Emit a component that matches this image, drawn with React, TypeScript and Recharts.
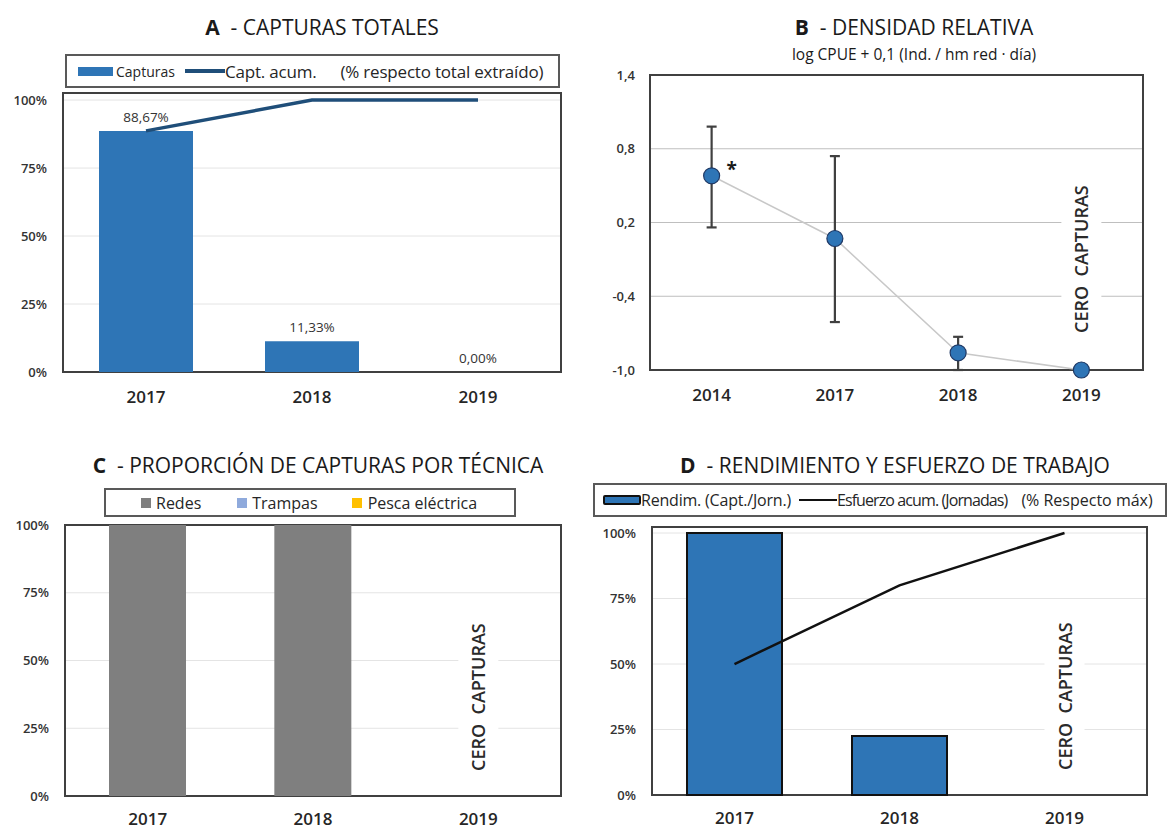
import React from "react";
import {
  ComposedChart,
  Bar,
  Line,
  XAxis,
  YAxis,
  CartesianGrid,
  ReferenceArea,
  ReferenceLine,
  ErrorBar,
  LabelList,
} from "recharts";

// A - capturas totales (% respecto total extraído)
const yearsA = ["2017", "2018", "2019"];
const capturasPct = [88.67, 11.33, 0];
const capturasAcumPct = [88.67, 100, 100];

// B - densidad relativa, log CPUE + 0,1
const yearsB = ["2014", "2017", "2018", "2019"];
const cpueLog = [0.58, 0.07, -0.86, -1.0];
const cpueLow = [0.16, -0.61, -1.0, -1.0];
const cpueHigh = [0.98, 0.74, -0.73, -1.0];
const cpueNote = ["*", "", "", ""];
const cpueTicks = [-1.0, -0.4, 0.2, 0.8, 1.4];

// C - proporción de capturas por técnica
const yearsC = ["2017", "2018", "2019"];
const redesPct = [100, 100, 0];
const trampasPct = [0, 0, 0];
const electricaPct = [0, 0, 0];

// D - rendimiento y esfuerzo (% respecto máx)
const yearsD = ["2017", "2018", "2019"];
const rendimPct = [100, 22.5, 0];
const esfuerzoAcumPct = [50, 80, 100];

const pctTicks = [0, 25, 50, 75, 100];

const dataA = yearsA.map((year, i) => ({
  year,
  capturas: capturasPct[i],
  acum: capturasAcumPct[i],
}));
const dataB = yearsB.map((year, i) => ({
  year,
  value: cpueLog[i],
  err: [cpueLog[i] - cpueLow[i], cpueHigh[i] - cpueLog[i]],
  note: cpueNote[i],
}));
const dataC = yearsC.map((year, i) => ({
  year,
  redes: redesPct[i],
  trampas: trampasPct[i],
  electrica: electricaPct[i],
}));
const dataD = yearsD.map((year, i) => ({
  year,
  rendim: rendimPct[i],
  esfuerzo: esfuerzoAcumPct[i],
}));

const FONT = "'Open Sans', sans-serif";
const BLUE = "#2e75b6";
const FRAME = "#404040";

const yTick = { fontSize: 13, fontWeight: 600, fill: "#333", fontFamily: FONT };
const xTick = { fontSize: 17, fontWeight: 600, fill: "#262626", fontFamily: FONT };

const pct = (v: number) => `${v}%`;
const comma = (v: number) => v.toFixed(1).replace(".", ",");

function CeroCapturas({ viewBox, lift }: any) {
  const { x, y, height } = viewBox;
  const bottom = y + height - lift;
  const len = 148;
  return (
    <g>
      <rect x={x - 20} y={bottom - len - 4} width={40} height={len + 8} fill="#fff" />
      <text
        transform={`translate(${x + 7}, ${bottom}) rotate(-90)`}
        fontSize={18}
        fontWeight={600}
        fill="#2a2a2a"
        fontFamily={FONT}
        style={{ whiteSpace: "pre" }}
      >
        CERO  CAPTURAS
      </text>
    </g>
  );
}

function Title({ letter, text, cx, top }: { letter: string; text: string; cx: number; top: number }) {
  return (
    <div
      style={{
        position: "absolute",
        left: cx - 300,
        top,
        width: 600,
        textAlign: "center",
        fontSize: 21,
        fontWeight: 500,
        lineHeight: "24px",
        color: "#1a1a1a",
        whiteSpace: "pre",
      }}
    >
      <b>{letter}</b>
      {"  - " + text}
    </div>
  );
}

const legendBox: React.CSSProperties = {
  position: "absolute",
  boxSizing: "border-box",
  border: "2px solid #595959",
  display: "flex",
  alignItems: "center",
  color: "#262626",
  background: "#fff",
  whiteSpace: "nowrap",
};

export default function App() {
  return (
    <div
      style={{
        position: "absolute",
        left: 0,
        top: 0,
        width: 1167,
        height: 830,
        background: "#fff",
        fontFamily: FONT,
        overflow: "hidden",
      }}
    >
      {/* A - Capturas totales */}
      <Title letter="A" text="CAPTURAS TOTALES" cx={322} top={15} />
      <div style={{ ...legendBox, left: 65, top: 54, width: 495, height: 34 }}>
        <span style={{ width: 35, height: 9, background: BLUE, marginLeft: 11 }} />
        <span style={{ fontSize: 14, marginLeft: 3 }}>Capturas</span>
        <span style={{ width: 40, height: 4, background: "#1f4e79", marginLeft: 10 }} />
        <span style={{ fontSize: 17, letterSpacing: -0.2 }}>Capt. acum.</span>
        <span style={{ fontSize: 17, marginLeft: 24, letterSpacing: -0.2 }}>
          (% respecto total extraído)
        </span>
      </div>
      <div style={{ position: "absolute", left: 0, top: 0 }}>
        <ComposedChart
          width={580}
          height={420}
          data={dataA}
          margin={{ top: 93, right: 19, bottom: 18, left: 0 }}
        >
          <CartesianGrid vertical={false} stroke="#e4e4e4" />
          <XAxis
            dataKey="year"
            height={30}
            axisLine={false}
            tickLine={false}
            tickSize={0}
            tickMargin={19}
            tick={xTick}
          />
          <YAxis
            width={63}
            domain={[0, 102.6]}
            ticks={pctTicks}
            tickFormatter={pct}
            axisLine={false}
            tickLine={false}
            tickSize={0}
            tickMargin={16}
            tick={yTick}
          />
          <Bar dataKey="capturas" fill={BLUE} barSize={94} isAnimationActive={false} />
          <Line
            dataKey="acum"
            stroke="#1f4e79"
            strokeWidth={3.5}
            dot={false}
            isAnimationActive={false}
          />
          {/* value labels sit on an unstroked series so the empty 2019 bar keeps its label */}
          <Line
            dataKey="capturas"
            stroke="none"
            dot={false}
            activeDot={false}
            isAnimationActive={false}
          >
            <LabelList
              dataKey="capturas"
              position="top"
              offset={9}
              formatter={(v: any) => `${Number(v).toFixed(2).replace(".", ",")}%`}
              style={{ fontSize: 13.5, fill: "#333", fontFamily: FONT }}
            />
          </Line>
          <ReferenceArea y1={0} y2={102.6} fill="none" stroke={FRAME} strokeWidth={2} />
        </ComposedChart>
      </div>

      {/* B - Densidad relativa */}
      <Title letter="B" text="DENSIDAD RELATIVA" cx={914} top={15} />
      <div
        style={{
          position: "absolute",
          left: 614,
          top: 44,
          width: 600,
          textAlign: "center",
          fontSize: 15.5,
          lineHeight: "20px",
          color: "#1a1a1a",
        }}
      >
        log CPUE + 0,1 (Ind. / hm red · día)
      </div>
      <div style={{ position: "absolute", left: 580, top: 0 }}>
        <ComposedChart
          width={587}
          height={420}
          data={dataB}
          margin={{ top: 75, right: 24, bottom: 20, left: 0 }}
        >
          <CartesianGrid vertical={false} stroke="#bfbfbf" />
          <XAxis
            dataKey="year"
            scale="band"
            height={30}
            axisLine={false}
            tickLine={false}
            tickSize={0}
            tickMargin={19}
            tick={xTick}
          />
          <YAxis
            width={70}
            domain={[-1, 1.4]}
            ticks={cpueTicks}
            tickFormatter={comma}
            axisLine={false}
            tickLine={false}
            tickSize={0}
            tickMargin={15}
            tick={yTick}
          />
          <ReferenceLine
            x="2019"
            stroke="none"
            label={(props: any) => <CeroCapturas {...props} lift={37} />}
          />
          <Line
            dataKey="value"
            stroke="#c8c8c8"
            strokeWidth={1.5}
            dot={{ r: 8, fill: BLUE, stroke: "#1f3864", strokeWidth: 1.2 }}
            isAnimationActive={false}
          >
            <ErrorBar dataKey="err" width={5} stroke={FRAME} strokeWidth={2.2} direction="y" />
            <LabelList
              dataKey="note"
              content={(p: any) =>
                p.value ? (
                  <text
                    x={p.x + 20}
                    y={p.y}
                    textAnchor="middle"
                    fontSize={19}
                    fontWeight={700}
                    fill="#1a1a1a"
                    fontFamily={FONT}
                  >
                    {p.value}
                  </text>
                ) : null
              }
            />
          </Line>
          <ReferenceArea y1={-1} y2={1.4} fill="none" stroke={FRAME} strokeWidth={2} />
        </ComposedChart>
      </div>

      {/* C - Proporción de capturas por técnica */}
      <Title letter="C" text="PROPORCIÓN DE CAPTURAS POR TÉCNICA" cx={318} top={453} />
      <div
        style={{ ...legendBox, left: 104, top: 488, width: 412, height: 29, fontSize: 16, fontWeight: 500 }}
      >
        <span style={{ width: 10, height: 10, background: "#7f7f7f", marginLeft: 35 }} />
        <span style={{ marginLeft: 5 }}>Redes</span>
        <span style={{ width: 10, height: 10, background: "#8faadc", marginLeft: 36 }} />
        <span style={{ marginLeft: 5 }}>Trampas</span>
        <span style={{ width: 10, height: 10, background: "#ffc000", marginLeft: 34 }} />
        <span style={{ marginLeft: 6 }}>Pesca eléctrica</span>
      </div>
      <div style={{ position: "absolute", left: 0, top: 440 }}>
        <ComposedChart
          width={580}
          height={390}
          data={dataC}
          margin={{ top: 85, right: 19, bottom: 4, left: 0 }}
        >
          <CartesianGrid vertical={false} stroke="#e4e4e4" />
          <XAxis
            dataKey="year"
            height={30}
            axisLine={false}
            tickLine={false}
            tickSize={0}
            tickMargin={17}
            tick={xTick}
          />
          <YAxis
            width={65}
            domain={[0, 100]}
            ticks={pctTicks}
            tickFormatter={pct}
            axisLine={false}
            tickLine={false}
            tickSize={0}
            tickMargin={16}
            tick={yTick}
          />
          <ReferenceLine
            x="2019"
            stroke="none"
            label={(props: any) => <CeroCapturas {...props} lift={25} />}
          />
          <Bar dataKey="redes" stackId="t" fill="#7f7f7f" barSize={77} isAnimationActive={false} />
          <Bar dataKey="trampas" stackId="t" fill="#8faadc" barSize={77} isAnimationActive={false} />
          <Bar dataKey="electrica" stackId="t" fill="#ffc000" barSize={77} isAnimationActive={false} />
          <ReferenceArea y1={0} y2={100} fill="none" stroke={FRAME} strokeWidth={2} />
        </ComposedChart>
      </div>

      {/* D - Rendimiento y esfuerzo de trabajo */}
      <Title letter="D" text="RENDIMIENTO Y ESFUERZO DE TRABAJO" cx={895} top={453} />
      <div
        style={{ ...legendBox, left: 593, top: 483, width: 574, height: 34, fontSize: 16, fontWeight: 500 }}
      >
        <span
          style={{
            boxSizing: "border-box",
            width: 38,
            height: 10,
            background: BLUE,
            border: "2px solid #111",
            borderRadius: 2,
            marginLeft: 8,
          }}
        />
        <span style={{ letterSpacing: -0.2 }}>Rendim. (Capt./Jorn.)</span>
        <span style={{ width: 38, height: 2, background: "#111", marginLeft: 8 }} />
        <span style={{ letterSpacing: -0.9 }}>Esfuerzo acum. (Jornadas)</span>
        <span style={{ marginLeft: 14 }}>(% Respecto máx)</span>
      </div>
      <div style={{ position: "absolute", left: 580, top: 440 }}>
        <ComposedChart
          width={587}
          height={390}
          data={dataD}
          margin={{ top: 87, right: 20, bottom: 5, left: 0 }}
        >
          <CartesianGrid vertical={false} stroke="#e4e4e4" />
          <XAxis
            dataKey="year"
            height={30}
            axisLine={false}
            tickLine={false}
            tickSize={0}
            tickMargin={17}
            tick={xTick}
          />
          <YAxis
            width={72}
            domain={[0, 102.3]}
            ticks={pctTicks}
            tickFormatter={pct}
            axisLine={false}
            tickLine={false}
            tickSize={0}
            tickMargin={16}
            tick={yTick}
          />
          <ReferenceLine
            x="2019"
            stroke="none"
            label={(props: any) => <CeroCapturas {...props} lift={25} />}
          />
          <Bar
            dataKey="rendim"
            fill={BLUE}
            stroke="#111"
            strokeWidth={2}
            barSize={95}
            isAnimationActive={false}
          />
          <Line
            dataKey="esfuerzo"
            stroke="#111"
            strokeWidth={2.5}
            dot={false}
            isAnimationActive={false}
          />
          <ReferenceArea y1={0} y2={102.3} fill="none" stroke={FRAME} strokeWidth={2} />
        </ComposedChart>
      </div>
    </div>
  );
}
